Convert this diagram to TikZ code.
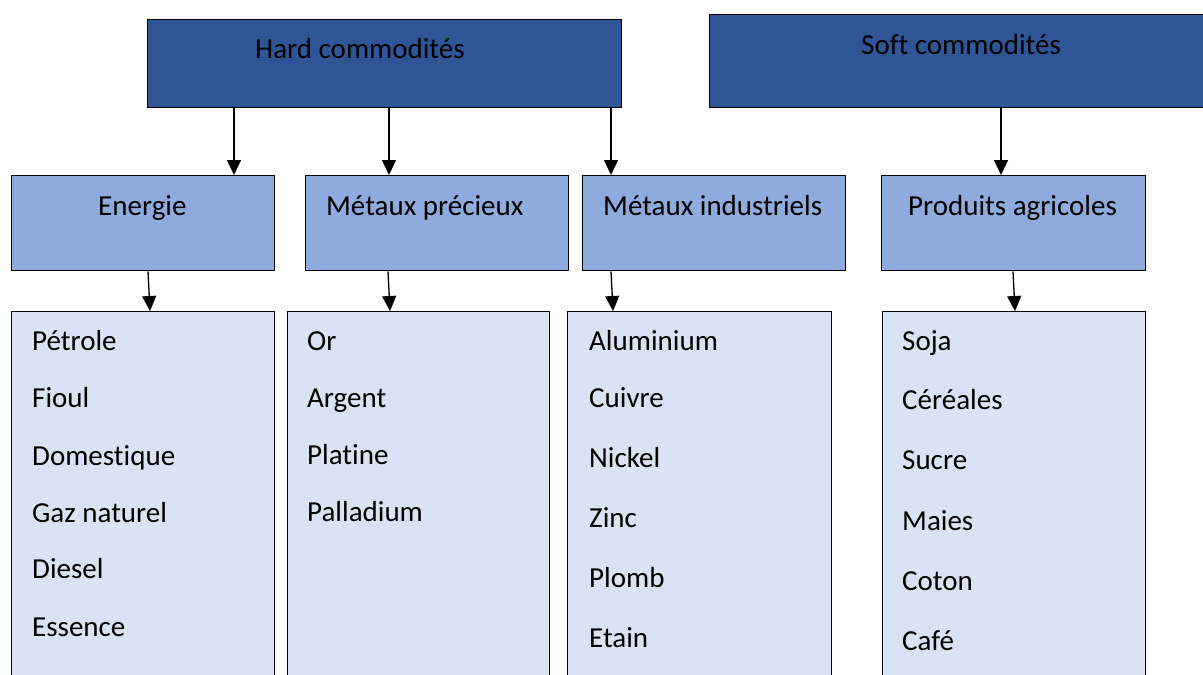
\documentclass[tikz,border=0pt]{standalone}
\usepackage{fontspec}
\setmainfont[Ligatures={NoCommon}]{Carlito}
\usetikzlibrary{arrows.meta}
\definecolor{darkblue}{HTML}{2F5597}
\definecolor{midblue}{HTML}{8FAADC}
\definecolor{lightblue}{HTML}{DAE3F3}
\tikzset{
  box/.style={draw=black, line width=1.3pt, rectangle, inner sep=0pt, anchor=north west},
  topbox/.style={box, fill=darkblue},
  catbox/.style={box, fill=midblue},
  listbox/.style={box, fill=lightblue},
  lbl/.style={anchor=base west, inner sep=0pt, font=\fontsize{29}{34}\selectfont, text=black},
  arr/.style={line width=1.3pt, -{Triangle[width=14pt,length=15pt]}}
}
\begin{document}
\begin{tikzpicture}[x=1pt,y=-1pt]
\useasboundingbox (0,0) rectangle (1203,675);
\clip (0,0) rectangle (1203,675);
\fill[white] (0,0) rectangle (1203,675);
% top boxes
\node[topbox, minimum width=474pt, minimum height=88pt] (hard) at (147,19) {};
\node[topbox, minimum width=520pt, minimum height=93pt] (soft) at (709,14) {};
\node[lbl] (hardt) at (255,58) {Hard commodités};
\node[lbl] (softt) at (861,54) {Soft commodités};
% category boxes
\node[catbox, minimum width=263pt, minimum height=95pt] (energie) at (11,175) {};
\node[catbox, minimum width=263pt, minimum height=95pt] (precieux) at (305,175) {};
\node[catbox, minimum width=263pt, minimum height=95pt] (indus) at (582,175) {};
\node[catbox, minimum width=264pt, minimum height=95pt] (agri) at (881,175) {};
\node[lbl] (energiet) at (98,215) {Energie};
\node[lbl] (precieuxt) at (326,215) {Métaux précieux};
\node[lbl] (indust) at (603,215) {Métaux industriels};
\node[lbl] (agrit) at (908,215) {Produits agricoles};
% list boxes
\node[listbox, minimum width=263pt, minimum height=420pt] (elist) at (11,311) {};
\node[listbox, minimum width=262pt, minimum height=420pt] (plist) at (287,311) {};
\node[listbox, minimum width=264pt, minimum height=420pt] (ilist) at (567,311) {};
\node[listbox, minimum width=263pt, minimum height=420pt] (alist) at (882,311) {};
% list texts
\node[lbl] (e1) at (32,350) {Pétrole};
\node[lbl] (e2) at (32,407) {Fioul};
\node[lbl] (e3) at (32,465) {Domestique};
\node[lbl] (e4) at (32,522) {Gaz naturel};
\node[lbl] (e5) at (32,578) {Diesel};
\node[lbl] (e6) at (32,636) {Essence};
\node[lbl] (p1) at (307,350) {Or};
\node[lbl] (p2) at (307,407) {Argent};
\node[lbl] (p3) at (307,464) {Platine};
\node[lbl] (p4) at (307,521) {Palladium};
\node[lbl] (i1) at (589,350) {Aluminium};
\node[lbl] (i2) at (589,407) {Cuivre};
\node[lbl] (i3) at (589,467) {Nickel};
\node[lbl] (i4) at (589,527) {Zinc};
\node[lbl] (i5) at (589,587) {Plomb};
\node[lbl] (i6) at (589,647) {Etain};
\node[lbl] (a1) at (902,350) {Soja};
\node[lbl] (a2) at (902,409) {Céréales};
\node[lbl] (a3) at (902,469) {Sucre};
\node[lbl] (a4) at (902,530) {Maies};
\node[lbl] (a5) at (902,590) {Coton};
\node[lbl] (a6) at (902,650) {Café};
% arrow x positions
\coordinate (h1) at (234,0);
\coordinate (h2) at (389,0);
\coordinate (h3) at (611,0);
\coordinate (s1) at (1001,0);
\coordinate (ea) at (148,0); \coordinate (eb) at (150,0);
\coordinate (pa) at (388,0); \coordinate (pb) at (390,0);
\coordinate (ia) at (611,0); \coordinate (ib) at (613,0);
\coordinate (aa) at (1013,0); \coordinate (ab) at (1015,0);
% connectors
\draw[arr] (hard.south -| h1) -- (energie.north -| h1);
\draw[arr] (hard.south -| h2) -- (precieux.north -| h2);
\draw[arr] (hard.south -| h3) -- (indus.north -| h3);
\draw[arr] (soft.south -| s1) -- (agri.north -| s1);
\draw[arr] (energie.south -| ea) -- (elist.north -| eb);
\draw[arr] (precieux.south -| pa) -- (plist.north -| pb);
\draw[arr] (indus.south -| ia) -- (ilist.north -| ib);
\draw[arr] (agri.south -| aa) -- (alist.north -| ab);
\end{tikzpicture}
\end{document}
